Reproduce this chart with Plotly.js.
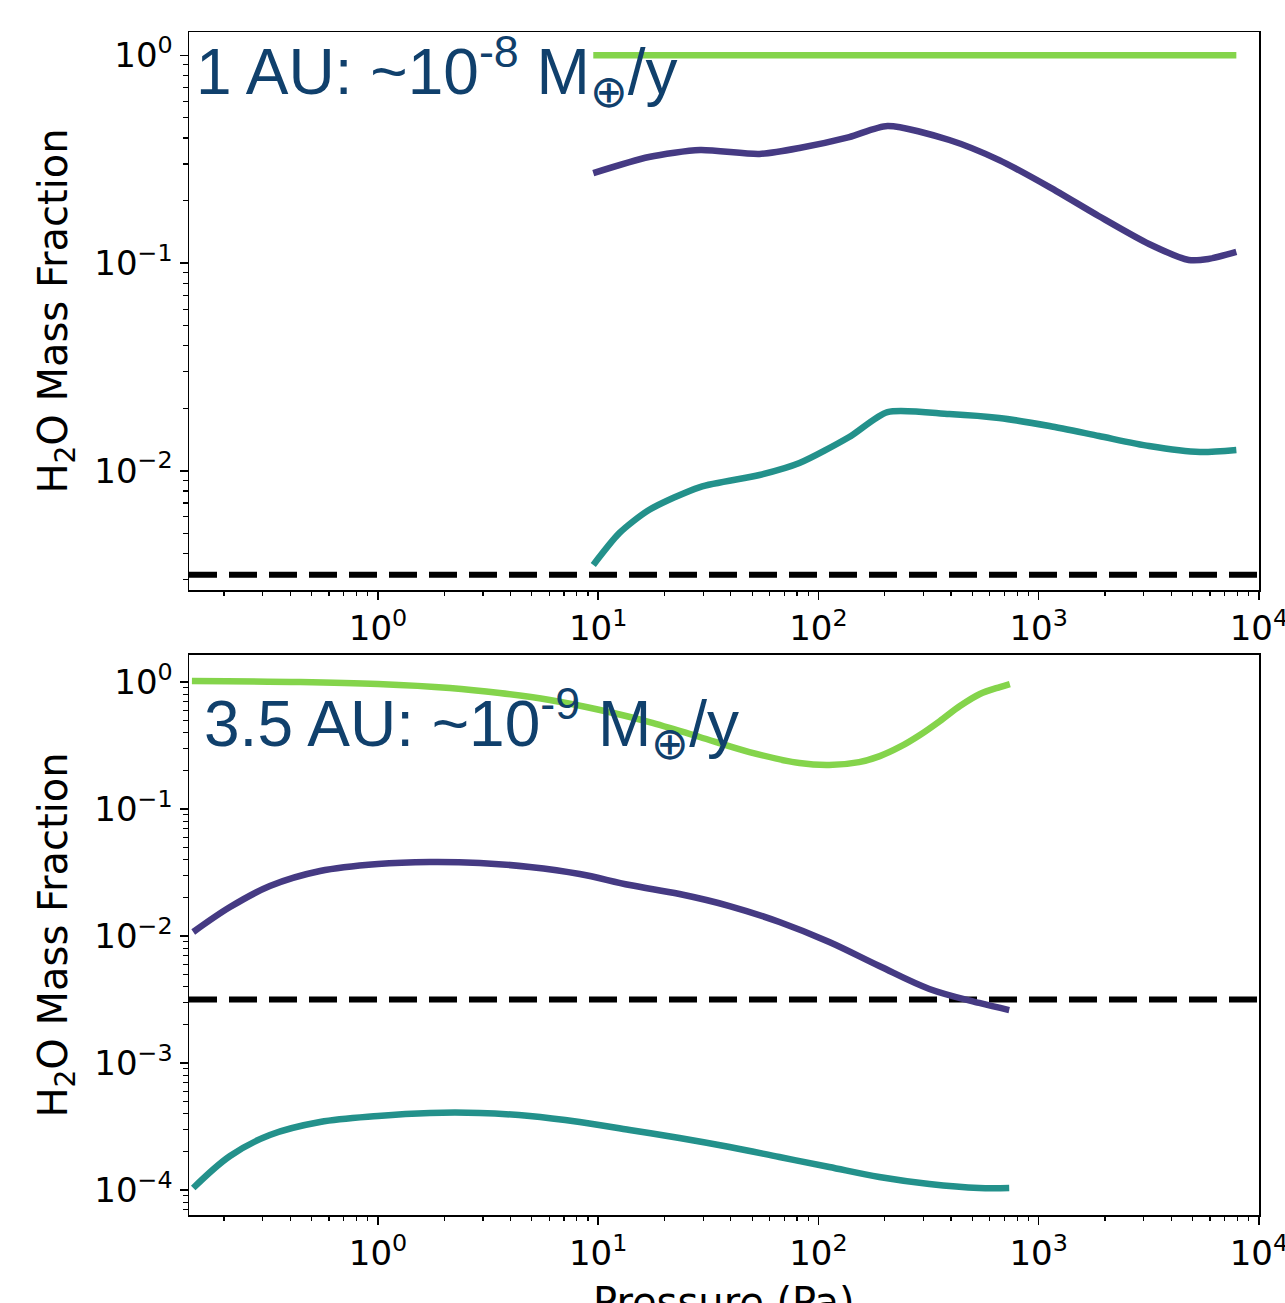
<!DOCTYPE html>
<html>
<head>
<meta charset="utf-8">
<script src="https://cdn.plot.ly/plotly-3.0.1.min.js"></script>
<style>html,body{margin:0;padding:0;background:#fff;}#chart{width:1285px;height:1303px;}</style>
</head>
<body>
<div id="chart"></div>
<script>
// ---- Data ----
// Top panel: 1 AU
const topX = [9.5, 17, 29, 54, 82, 138, 206, 393, 662, 1120, 1880, 3170, 4800, 5900, 7900];
const topGreenX = [9.5, 7900];
const topGreenY = [1.0, 1.0];
const topPurpleY = [0.271, 0.324, 0.350, 0.335, 0.358, 0.404, 0.457, 0.391, 0.313, 0.232, 0.168, 0.1235, 0.1034, 0.1045, 0.113];
const topTealX = [9.5, 12.5, 17, 29, 54, 82, 138, 206, 393, 662, 1120, 1880, 3170, 5400, 7900];
const topTealY = [0.00352, 0.00502, 0.00647, 0.00835, 0.00954, 0.0109, 0.01454, 0.01918, 0.01876, 0.01795, 0.01642, 0.0147, 0.01315, 0.0123, 0.01258];

// Bottom panel: 3.5 AU
const botGreenX = [0.143, 0.443, 1, 2.12, 3.57, 6.03, 10.2, 17.1, 28.9, 48.6, 82, 112, 153, 190, 234, 289, 356, 439, 541, 667, 740];
const botGreenY = [1.018, 1.0, 0.964, 0.897, 0.819, 0.722, 0.602, 0.484, 0.369, 0.281, 0.230, 0.222, 0.234, 0.261, 0.308, 0.383, 0.493, 0.647, 0.805, 0.913, 0.964];
const botX = [0.145, 0.213, 0.323, 0.546, 1, 1.72, 2.9, 4.89, 8.24, 13.9, 23.4, 39.5, 66.5, 112, 189, 319, 537, 735];
const botPurpleY = [0.01075, 0.0169, 0.02475, 0.0325, 0.0369, 0.03825, 0.03757, 0.03494, 0.03078, 0.0252, 0.02142, 0.01722, 0.01289, 0.00897, 0.0058, 0.00383, 0.00297, 0.00261];
const botTealY = [0.0001037, 0.0001853, 0.000271, 0.000343, 0.0003825, 0.000404, 0.000404, 0.0003825, 0.000343, 0.000297, 0.0002567, 0.000218, 0.0001819, 0.0001517, 0.0001266, 0.0001115, 0.0001037, 0.0001037];

// Reference level (dashed line)
const refLevel = 0.00316;
const refX = [0.1387, 10000];

// Tick labels
const xTickVals = [1, 10, 100, 1000, 10000];
const xTickText = ['10<sup>0</sup>', '10<sup>1</sup>', '10<sup>2</sup>', '10<sup>3</sup>', '10<sup>4</sup>'];
const yTopTickVals = [1, 0.1, 0.01];
const yTopTickText = ['10<sup>0</sup>', '10<sup>−1</sup>', '10<sup>−2</sup>'];
const yBotTickVals = [1, 0.1, 0.01, 0.001, 0.0001];
const yBotTickText = ['10<sup>0</sup>', '10<sup>−1</sup>', '10<sup>−2</sup>', '10<sup>−3</sup>', '10<sup>−4</sup>'];

const labelTop = '1 AU: ~10<sup>-8</sup> M<sub>⊕</sub>/y';
const labelBot = '3.5 AU: ~10<sup>-9</sup> M<sub>⊕</sub>/y';
const yTitle = 'H<sub>2</sub>O Mass Fraction';
const xTitle = 'Pressure (Pa)';

// ---- Styles ----
const GREEN = '#84d44b', PURPLE = '#453a83', TEAL = '#23918b';
const LW = 6.5;

function minorVals(lo, hi) {
  const v = [];
  for (let e = lo; e <= hi; e++) for (let m = 2; m <= 9; m++) v.push(m * Math.pow(10, e));
  return v;
}

function line(x, y, color, xa, ya, smooth, extra) {
  return Object.assign({
    x: x, y: y, xaxis: xa, yaxis: ya, mode: 'lines', type: 'scatter',
    line: {color: color, width: LW, shape: 'spline', smoothing: smooth},
    hoverinfo: 'skip', showlegend: false
  }, extra || {});
}

const dashStyle = {color: '#000', width: 6, dash: '28px,12px'};

const traces = [
  line(refX, refX.map(() => refLevel), '#000', 'x', 'y', 0, {line: dashStyle}),
  line(topGreenX, topGreenY, GREEN, 'x', 'y', 0.7),
  line(topX, topPurpleY, PURPLE, 'x', 'y', 0.7),
  line(topTealX, topTealY, TEAL, 'x', 'y', 0.7),
  line(refX, refX.map(() => refLevel), '#000', 'x2', 'y2', 0, {line: dashStyle}),
  line(botGreenX, botGreenY, GREEN, 'x2', 'y2', 0.9),
  line(botX, botPurpleY, PURPLE, 'x2', 'y2', 1.0),
  line(botX, botTealY, TEAL, 'x2', 'y2', 1.0)
];

const tickFont = {family: 'DejaVu Sans', size: 34, color: '#000'};
const titleFont = {family: 'DejaVu Sans', size: 40, color: '#000'};

function axisBase(extra) {
  return Object.assign({
    type: 'log', showline: true, mirror: true, linecolor: '#000', linewidth: 1.5,
    ticks: 'outside', ticklen: 8, tickwidth: 1.5, tickcolor: '#000',
    showgrid: false, zeroline: false, tickfont: tickFont, tickmode: 'array',
    automargin: false, ticklabeloverflow: 'allow'
  }, extra);
}

const xRange = [Math.log10(0.1387), 4.0005];
const minorStyle = {ticks: 'outside', ticklen: 4.5, tickwidth: 1.2, tickcolor: '#000'};

const layout = {
  width: 1285, height: 1303,
  paper_bgcolor: '#fff', plot_bgcolor: '#fff',
  margin: {l: 189, r: 26, t: 32, b: 88},
  showlegend: false,
  xaxis: axisBase({domain: [0, 1], anchor: 'y', range: xRange, tickvals: xTickVals, ticktext: xTickText,
    minor: Object.assign({tickvals: minorVals(-1, 3)}, minorStyle)}),
  yaxis: axisBase({domain: [0.5283, 1], anchor: 'x', range: [-2.574, 0.112], tickvals: yTopTickVals, ticktext: yTopTickText,
    minor: Object.assign({tickvals: minorVals(-3, 0)}, minorStyle),
    title: {text: yTitle, font: titleFont, standoff: 14}}),
  xaxis2: axisBase({domain: [0, 1], anchor: 'y2', range: xRange, tickvals: xTickVals, ticktext: xTickText,
    minor: Object.assign({tickvals: minorVals(-1, 3)}, minorStyle)}),
  yaxis2: axisBase({domain: [0, 0.4734], anchor: 'x2', range: [-4.197, 0.213], tickvals: yBotTickVals, ticktext: yBotTickText,
    minor: Object.assign({tickvals: minorVals(-5, 0)}, minorStyle),
    title: {text: yTitle, font: titleFont, standoff: 14}}),
  annotations: [
    {text: labelTop, xref: 'x domain', yref: 'y domain', x: 0.005, y: 1.015, xanchor: 'left', yanchor: 'top',
     showarrow: false, font: {family: 'Liberation Sans Narrow, Liberation Sans, Arial', size: 64, color: '#10406c'}},
    {text: labelBot, xref: 'x2 domain', yref: 'y2 domain', x: 0.012, y: 0.962, xanchor: 'left', yanchor: 'top',
     showarrow: false, font: {family: 'Liberation Sans Narrow, Liberation Sans, Arial', size: 64, color: '#10406c'}},
    {text: xTitle, xref: 'x2 domain', yref: 'paper', x: 0.5, y: -0.0525, xanchor: 'center', yanchor: 'top',
     showarrow: false, font: titleFont}
  ]
};

Plotly.newPlot('chart', traces, layout, {staticPlot: true, displayModeBar: false});
</script>
</body>
</html>
